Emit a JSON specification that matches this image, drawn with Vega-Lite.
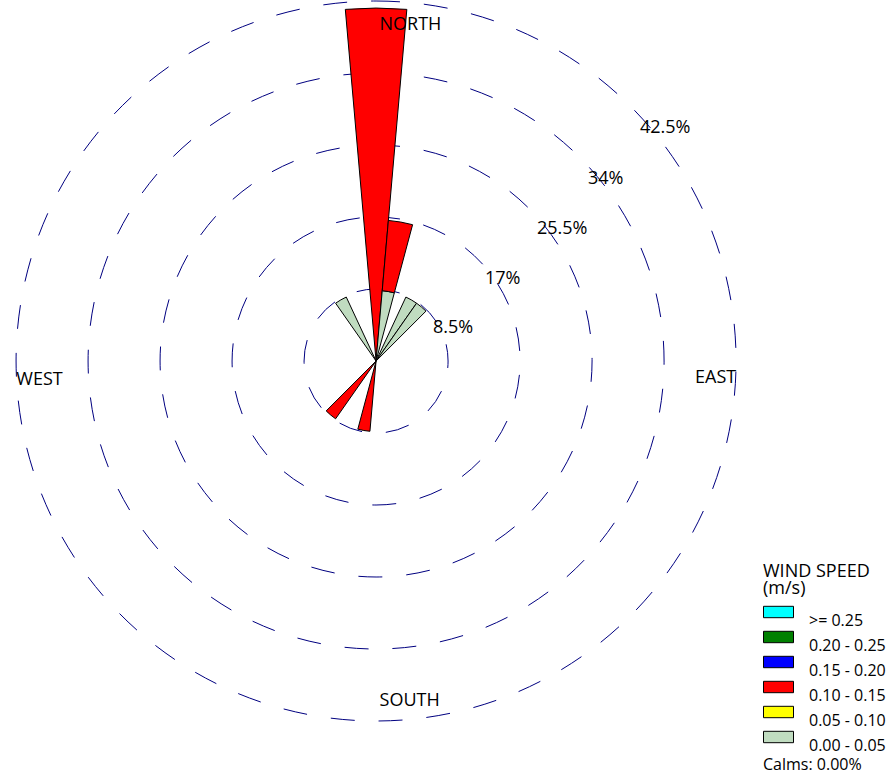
{
  "$schema": "https://vega.github.io/schema/vega-lite/v6.json",
  "width": 892,
  "height": 781,
  "autosize": {"type": "none"},
  "padding": 0,
  "background": "white",
  "config": {"view": {"stroke": null}, "font": "Open Sans"},
  "datasets": {
    "rings": [
      {"ring": 8.5}, {"ring": 17}, {"ring": 25.5}, {"ring": 34}, {"ring": 42.5}
    ],
    "wedges": [
      {"dir": 0, "dir_from": -5, "dir_to": 5, "speed": "0.10 - 0.15", "freq": 41.67},
      {"dir": 10, "dir_from": 5, "dir_to": 15, "speed": "0.00 - 0.05", "freq": 8.33},
      {"dir": 10, "dir_from": 5, "dir_to": 15, "speed": "0.10 - 0.15", "freq": 8.33},
      {"dir": 30, "dir_from": 25, "dir_to": 35, "speed": "0.00 - 0.05", "freq": 8.33},
      {"dir": 40, "dir_from": 35, "dir_to": 45, "speed": "0.00 - 0.05", "freq": 8.33},
      {"dir": 190, "dir_from": 185, "dir_to": 195, "speed": "0.10 - 0.15", "freq": 8.33},
      {"dir": 220, "dir_from": 215, "dir_to": 225, "speed": "0.10 - 0.15", "freq": 8.33},
      {"dir": 330, "dir_from": 325, "dir_to": 335, "speed": "0.00 - 0.05", "freq": 8.33}
    ],
    "compass": [
      {"label": "NORTH", "lx": 0.4, "ly": 39.78},
      {"label": "SOUTH", "lx": 0.4, "ly": -41.43},
      {"label": "WEST", "lx": -41.8, "ly": -2.88},
      {"label": "EAST", "lx": 37.06, "ly": -2.64}
    ],
    "ringlabels": [
      {"label": "8.5%", "lx": 6.61, "ly": 3.31},
      {"label": "17%", "lx": 12.65, "ly": 9.31},
      {"label": "25.5%", "lx": 18.69, "ly": 15.32},
      {"label": "34%", "lx": 24.62, "ly": 21.33},
      {"label": "42.5%", "lx": 30.66, "ly": 27.4}
    ],
    "calms": [
      {"label": "Calms: 0.00%", "lx": 44.96, "ly": -49.16}
    ]
  },
  "layer": [
    {
      "data": {"name": "rings"},
      "mark": {"type": "arc", "filled": false, "stroke": "#000080", "strokeWidth": 1, "strokeDash": [24, 24]},
      "encoding": {
        "x": {"datum": 0, "type": "quantitative", "scale": {"domain": [-43.7, 59.95], "nice": false, "zero": false}, "axis": null},
        "y": {"datum": 0, "type": "quantitative", "scale": {"domain": [-50.48, 43.39], "nice": false, "zero": false}, "axis": null},
        "theta": {"datum": 0, "type": "quantitative", "stack": null, "scale": {"domain": [0, 360], "range": [0, 6.283185307179586]}},
        "theta2": {"datum": 360},
        "radius": {"field": "ring", "type": "quantitative", "stack": null, "scale": {"type": "linear", "domain": [0, 42.5], "range": [0, 360], "zero": true, "nice": false}}
      }
    },
    {
      "mark": {"type": "rule", "stroke": "#000080", "strokeWidth": 1, "strokeDash": [24, 24]},
      "encoding": {
        "x": {"datum": 0, "type": "quantitative"},
        "x2": {"datum": -42.5},
        "y": {"datum": 0, "type": "quantitative"}
      }
    },
    {
      "mark": {"type": "rule", "stroke": "#000080", "strokeWidth": 1, "strokeDash": [24, 24]},
      "encoding": {
        "x": {"datum": 0, "type": "quantitative"},
        "x2": {"datum": 42.5},
        "y": {"datum": 0, "type": "quantitative"}
      }
    },
    {
      "mark": {"type": "rule", "stroke": "#000080", "strokeWidth": 1, "strokeDash": [24, 24]},
      "encoding": {
        "x": {"datum": 0, "type": "quantitative"},
        "y": {"datum": 0, "type": "quantitative"},
        "y2": {"datum": 42.5}
      }
    },
    {
      "mark": {"type": "rule", "stroke": "#000080", "strokeWidth": 1, "strokeDash": [24, 24]},
      "encoding": {
        "x": {"datum": 0, "type": "quantitative"},
        "y": {"datum": 0, "type": "quantitative"},
        "y2": {"datum": -42.5}
      }
    },
    {
      "data": {"name": "wedges"},
      "transform": [
        {"stack": "freq", "groupby": ["dir"], "sort": [{"field": "speed", "order": "ascending"}], "as": ["r0", "r1"]}
      ],
      "mark": {"type": "arc", "stroke": "black", "strokeWidth": 1, "strokeJoin": "miter"},
      "encoding": {
        "x": {"datum": 0, "type": "quantitative"},
        "y": {"datum": 0, "type": "quantitative"},
        "theta": {"field": "dir_from", "type": "quantitative", "stack": null},
        "theta2": {"field": "dir_to"},
        "radius": {"field": "r1", "type": "quantitative", "stack": null},
        "radius2": {"field": "r0"},
        "fill": {
          "field": "speed",
          "type": "nominal",
          "scale": {
            "domain": [">= 0.25", "0.20 - 0.25", "0.15 - 0.20", "0.10 - 0.15", "0.05 - 0.10", "0.00 - 0.05"],
            "range": ["#00FFFF", "#008000", "#0000FF", "#FF0000", "#FFFF00", "#C0DCC0"]
          },
          "legend": {
            "title": ["WIND SPEED", "(m/s)"],
            "orient": "none",
            "legendX": 763,
            "legendY": 563,
            "padding": 0,
            "titleFont": "Open Sans",
            "titleFontSize": 18,
            "titleFontWeight": "normal",
            "titleColor": "black",
            "titleLineHeight": 17,
            "titlePadding": 10,
            "titleLimit": 0,
            "labelFont": "Open Sans",
            "labelFontSize": 16,
            "labelColor": "black",
            "labelBaseline": "middle",
            "labelOffset": 15,
            "labelLimit": 0,
            "rowPadding": 0,
            "symbolType": "M-1,-0.38H1V0.38H-1Z",
            "symbolSize": 900,
            "symbolStrokeColor": "black",
            "symbolStrokeWidth": 1,
            "symbolOpacity": 1,
            "encode": {
              "symbols": {"update": {"y": {"value": 4}}},
              "labels": {"update": {"y": {"value": 12.5}}}
            }
          }
        }
      }
    },
    {
      "mark": {"type": "arc", "fill": "white", "stroke": "black", "strokeWidth": 1},
      "encoding": {
        "x": {"datum": 0, "type": "quantitative"},
        "y": {"datum": 0, "type": "quantitative"},
        "theta": {"datum": 0, "type": "quantitative", "stack": null},
        "theta2": {"datum": 360},
        "radius": {"datum": 1.07, "type": "quantitative", "stack": null}
      }
    },
    {
      "data": {"name": "compass"},
      "mark": {"type": "text", "font": "Open Sans", "fontSize": 18, "color": "black", "align": "left", "baseline": "alphabetic"},
      "encoding": {
        "x": {"field": "lx", "type": "quantitative"},
        "y": {"field": "ly", "type": "quantitative"},
        "text": {"field": "label"}
      }
    },
    {
      "data": {"name": "ringlabels"},
      "mark": {"type": "text", "font": "Open Sans", "fontSize": 18, "color": "black", "align": "left", "baseline": "alphabetic"},
      "encoding": {
        "x": {"field": "lx", "type": "quantitative"},
        "y": {"field": "ly", "type": "quantitative"},
        "text": {"field": "label"}
      }
    },
    {
      "data": {"name": "calms"},
      "mark": {"type": "text", "font": "Open Sans", "fontSize": 16, "color": "black", "align": "left", "baseline": "alphabetic"},
      "encoding": {
        "x": {"field": "lx", "type": "quantitative"},
        "y": {"field": "ly", "type": "quantitative"},
        "text": {"field": "label"}
      }
    }
  ]
}
